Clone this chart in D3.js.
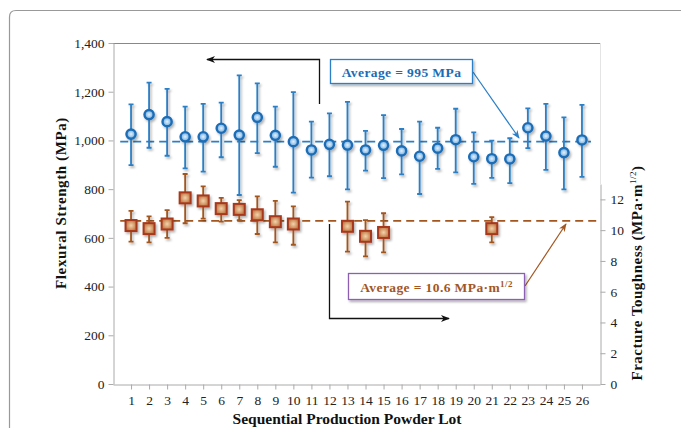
<!DOCTYPE html>
<html>
<head>
<meta charset="utf-8">
<script src="https://cdn.jsdelivr.net/npm/d3@7"></script>
<style>
  html, body { margin: 0; padding: 0; background: #fff; }
  svg { display: block; font-family: "Liberation Serif", "DejaVu Serif", serif; }
</style>
</head>
<body>
<svg id="chart" width="681" height="428"></svg>
<script>
const width = 681;
const height = 428;

// flexural strength per lot (MPa), with error bar ends
const lots = [1,2,3,4,5,6,7,8,9,10,11,12,13,14,15,16,17,18,19,20,21,22,23,24,25,26];
const strength   = [1026,1106,1077,1015,1015,1050,1022,1095,1021,995,961,984,981,961,980,957,935,968,1003,933,925,924,1052,1018,950,1002];
const strengthHi = [1148,1237,1212,1139,1150,1155,1267,1234,1139,1198,1077,1111,1158,1039,1104,1047,1077,1052,1130,1033,999,1009,1132,1150,1095,1146];
const strengthLo = [899,970,937,885,872,931,776,948,892,786,847,853,799,876,845,861,780,883,869,822,846,825,968,879,799,850];

// fracture toughness (MPa·m^1/2) only measured on some lots
const toughLots = [1,2,3,4,5,6,7,8,9,10,13,14,15,21];
const tough   = [10.3,10.1,10.4,12.1,11.9,11.4,11.35,11.0,10.55,10.4,10.25,9.6,9.85,10.1];
const toughHi = [11.25,10.9,11.3,13.65,12.85,12.1,11.95,12.2,11.9,11.55,11.85,10.65,11.1,10.85];
const toughLo = [9.25,9.2,9.5,10.45,10.75,10.55,10.65,9.75,9.2,9.05,8.6,8.3,8.55,9.2];

const avgStrength = 995;
const avgTough = 10.6;

const leftTicks = [0,200,400,600,800,1000,1200,1400];
const rightTicks = [0,2,4,6,8,10,12];

const blue = "#2a7fc6";
const brown = "#a3561f";

const svg = d3.select("#chart").attr("viewBox", [0, 0, width, height]);

const defs = svg.append("defs");
const shadow = defs.append("filter").attr("id", "shadow")
  .attr("x", "-50%").attr("y", "-50%").attr("width", "200%").attr("height", "200%");
shadow.append("feDropShadow").attr("dx", 1.5).attr("dy", 2).attr("stdDeviation", 1.2)
  .attr("flood-color", "#000").attr("flood-opacity", 0.3);

const gBlue = defs.append("radialGradient").attr("id", "gblue");
gBlue.append("stop").attr("offset", "0%").attr("stop-color", "#e4f1fb");
gBlue.append("stop").attr("offset", "100%").attr("stop-color", "#6aa9de");
const gBrown = defs.append("radialGradient").attr("id", "gbrown");
gBrown.append("stop").attr("offset", "0%").attr("stop-color", "#f3d3ad");
gBrown.append("stop").attr("offset", "100%").attr("stop-color", "#c27a45");

function marker(id, color) {
  defs.append("marker").attr("id", id)
    .attr("viewBox", "0 0 10 10").attr("refX", 9).attr("refY", 5)
    .attr("markerWidth", 7).attr("markerHeight", 7).attr("orient", "auto-start-reverse")
    .append("path").attr("d", "M0,1 L10,5 L0,9 L3,5 Z").attr("fill", color);
}
marker("ablack", "#111");
marker("ablue", blue);
marker("abrown", brown);

// outer figure frame
svg.append("path")
  .attr("d", "M9.5,428 L9.5,17 Q9.5,10.5 16,10.5 L681,10.5")
  .attr("fill", "none").attr("stroke", "#999").attr("stroke-width", 1.2);

const x = d3.scaleLinear().domain([0, 27]).range([113, 600]);
const yL = d3.scaleLinear().domain([0, 1400]).range([384, 43]);
const yR = d3.scaleLinear().domain([0, 13]).range([384, 184]);

// plot frame: top and faint right edge
svg.append("line").attr("x1", 113).attr("x2", 600).attr("y1", 43.5).attr("y2", 43.5)
  .attr("stroke", "#888");
svg.append("line").attr("x1", 600.5).attr("x2", 600.5).attr("y1", 43).attr("y2", 184)
  .attr("stroke", "#e4e4e4");

function styleAxis(g) {
  g.selectAll(".domain").attr("stroke", "#aaa");
  g.selectAll(".tick line").attr("stroke", "#aaa");
  g.selectAll("text").attr("fill", "#222")
    .style("font-family", "Liberation Serif, serif").style("font-size", "13.5px");
}

svg.append("g").attr("transform", "translate(113.5,0)")
  .call(d3.axisLeft(yL).tickValues(leftTicks).tickFormat(d3.format(",")).tickSize(5).tickSizeOuter(0))
  .call(styleAxis)
  .call(g => g.selectAll("text").attr("x", -9));

svg.append("g").attr("transform", "translate(0,384.5)")
  .call(d3.axisBottom(x).tickValues(lots).tickFormat(d3.format("d")).tickSize(5).tickSizeOuter(0))
  .call(styleAxis)
  .call(g => g.selectAll("text").attr("y", 11));

svg.append("g").attr("transform", "translate(600.5,0)")
  .call(d3.axisRight(yR).tickValues(rightTicks).tickSize(5).tickSizeOuter(0))
  .call(styleAxis)
  .call(g => g.selectAll("text").attr("x", 10));

// axis titles
svg.append("text")
  .attr("transform", "translate(66,203) rotate(-90)")
  .attr("text-anchor", "middle")
  .style("font-weight", "bold").style("font-size", "15px").style("letter-spacing", "0.6px")
  .attr("fill", "#111")
  .text("Flexural Strength (MPa)");

const rt = svg.append("text")
  .attr("transform", "translate(642,273) rotate(-90)")
  .attr("text-anchor", "middle")
  .style("font-weight", "bold").style("font-size", "15px").style("letter-spacing", "0.5px")
  .attr("fill", "#111");
rt.append("tspan").text("Fracture Toughness (MPa·m");
rt.append("tspan").attr("dy", -6).style("font-size", "9px").style("font-weight", "normal").text("1/2");
rt.append("tspan").attr("dy", 6).text(")");

svg.append("text")
  .attr("x", 347).attr("y", 424)
  .attr("text-anchor", "middle")
  .style("font-weight", "bold").style("font-size", "15.5px")
  .attr("fill", "#111")
  .text("Sequential Production Powder Lot");

// average lines
svg.append("line")
  .attr("x1", x(0.4)).attr("x2", x(26.5))
  .attr("y1", yL(avgStrength)).attr("y2", yL(avgStrength))
  .attr("stroke", blue).attr("stroke-width", 1.6).attr("stroke-dasharray", "8,5");
svg.append("line")
  .attr("x1", x(0.4)).attr("x2", x(26.9))
  .attr("y1", yR(avgTough)).attr("y2", yR(avgTough))
  .attr("stroke", brown).attr("stroke-width", 1.6).attr("stroke-dasharray", "8,5");

// strength error bars + markers
const sData = lots.map((l, i) => ({ lot: l, v: strength[i], hi: strengthHi[i], lo: strengthLo[i] }));
const sG = svg.append("g").attr("filter", "url(#shadow)");
sG.selectAll("path.eb").data(sData).enter().append("path")
  .attr("d", d => `M${x(d.lot) - 2.5},${yL(d.hi)}H${x(d.lot) + 2.5}M${x(d.lot)},${yL(d.hi)}V${yL(d.lo)}M${x(d.lot) - 2.5},${yL(d.lo)}H${x(d.lot) + 2.5}`)
  .attr("fill", "none").attr("stroke", blue).attr("stroke-width", 1.8);
sG.selectAll("circle").data(sData).enter().append("circle")
  .attr("cx", d => x(d.lot)).attr("cy", d => yL(d.v)).attr("r", 4.6)
  .attr("fill", "url(#gblue)").attr("stroke", "#1b6cb6").attr("stroke-width", 2.4);

// toughness error bars + markers
const tData = toughLots.map((l, i) => ({ lot: l, v: tough[i], hi: toughHi[i], lo: toughLo[i] }));
const tG = svg.append("g").attr("filter", "url(#shadow)");
tG.selectAll("path.eb").data(tData).enter().append("path")
  .attr("d", d => `M${x(d.lot) - 2.5},${yR(d.hi)}H${x(d.lot) + 2.5}M${x(d.lot)},${yR(d.hi)}V${yR(d.lo)}M${x(d.lot) - 2.5},${yR(d.lo)}H${x(d.lot) + 2.5}`)
  .attr("fill", "none").attr("stroke", brown).attr("stroke-width", 1.8);
tG.selectAll("rect").data(tData).enter().append("rect")
  .attr("x", d => x(d.lot) - 5.5).attr("y", d => yR(d.v) - 5.5)
  .attr("width", 11).attr("height", 11)
  .attr("fill", "url(#gbrown)").attr("stroke", "#a8381e").attr("stroke-width", 2);

// annotation arrows
svg.append("path").attr("d", "M319.5,104 V59.5 H207")
  .attr("fill", "none").attr("stroke", "#111").attr("stroke-width", 1.3)
  .attr("marker-end", "url(#ablack)");
svg.append("path").attr("d", "M329.5,224 V318.5 H449")
  .attr("fill", "none").attr("stroke", "#111").attr("stroke-width", 1.3)
  .attr("marker-end", "url(#ablack)");
svg.append("line").attr("x1", 473).attr("y1", 72).attr("x2", 519).attr("y2", 138)
  .attr("stroke", blue).attr("stroke-width", 1.2).attr("marker-end", "url(#ablue)");
svg.append("line").attr("x1", 525).attr("y1", 286).attr("x2", 566).attr("y2", 224)
  .attr("stroke", brown).attr("stroke-width", 1.2).attr("marker-end", "url(#abrown)");

// annotation boxes
svg.append("rect").attr("x", 330.5).attr("y", 59.5).attr("width", 142).attr("height", 24)
  .attr("fill", "#fff").attr("stroke", blue).attr("stroke-width", 1.3).attr("filter", "url(#shadow)");
svg.append("text").attr("x", 401.5).attr("y", 76.5).attr("text-anchor", "middle")
  .style("font-weight", "bold").style("font-size", "13.5px").style("letter-spacing", "0.4px")
  .attr("fill", "#1b6cb6").text("Average = 995 MPa");

svg.append("rect").attr("x", 348.5).attr("y", 273.5).attr("width", 176).attr("height", 26)
  .attr("fill", "#fff").attr("stroke", "#8c5fb2").attr("stroke-width", 1.3).attr("filter", "url(#shadow)");
const at = svg.append("text").attr("x", 436.5).attr("y", 292).attr("text-anchor", "middle")
  .style("font-weight", "bold").style("font-size", "13.5px").style("letter-spacing", "0.4px")
  .attr("fill", "#a3561f");
at.append("tspan").text("Average = 10.6 MPa·m");
at.append("tspan").attr("dy", -5).style("font-size", "9px").text("1/2");
</script>
</body>
</html>
